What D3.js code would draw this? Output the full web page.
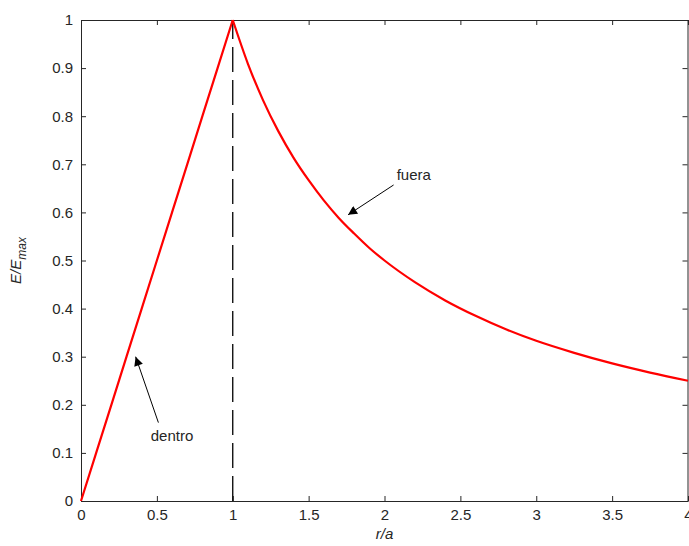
<!DOCTYPE html>
<html>
<head>
<meta charset="utf-8">
<script src="https://cdn.jsdelivr.net/npm/d3@7"></script>
<style>
  body { margin: 0; background: #fff; }
  text { font-family: "Liberation Sans", Arial, sans-serif; fill: #262626; }
</style>
</head>
<body>
<div class="container"></div>
<script>
// r/a values and field
const rIn  = [0, 0.1, 0.2, 0.3, 0.4, 0.5, 0.6, 0.7, 0.8, 0.9, 1.0];
const eIn  = [0, 0.1, 0.2, 0.3, 0.4, 0.5, 0.6, 0.7, 0.8, 0.9, 1.0];
const rOut = [1.0, 1.1, 1.2, 1.3, 1.4, 1.5, 1.6, 1.7, 1.8, 1.9, 2.0, 2.2, 2.4, 2.6, 2.8, 3.0, 3.25, 3.5, 3.75, 4.0];
const eOut = [1.0, 0.909, 0.833, 0.769, 0.714, 0.667, 0.625, 0.588, 0.556, 0.526, 0.5, 0.455, 0.417, 0.385, 0.357, 0.333, 0.308, 0.286, 0.267, 0.25];

const xTicks = [0, 0.5, 1, 1.5, 2, 2.5, 3, 3.5, 4];
const yTicks = [0, 0.1, 0.2, 0.3, 0.4, 0.5, 0.6, 0.7, 0.8, 0.9, 1];

const notes = [
  {label: 'dentro', text: [0.6, 0.133], from: [0.51, 0.163], to: [0.36, 0.30]},
  {label: 'fuera',  text: [2.08, 0.675], from: [2.06, 0.657], to: [1.76, 0.595]}
];

const width = 689, height = 546;
const margin = {left: 81, right: 1, top: 20, bottom: 45};

const svg = d3.select('.container')
  .append('svg')
  .attr('width', width)
  .attr('height', height);

const x = d3.scaleLinear().domain([0, 4]).range([margin.left, width - margin.right]);
const y = d3.scaleLinear().domain([0, 1]).range([height - margin.bottom, margin.top]);

svg.append('defs').append('marker')
  .attr('id', 'head')
  .attr('viewBox', '0 0 10 10')
  .attr('refX', 10).attr('refY', 5)
  .attr('markerWidth', 14).attr('markerHeight', 9)
  .attr('markerUnits', 'userSpaceOnUse')
  .attr('orient', 'auto')
  .append('path')
  .attr('d', 'M0,0 L10,5 L0,10 Z')
  .attr('fill', '#000');

//Axes, MATLAB style: box with ticks pointing inward
const axisStyle = g => {
  g.select('.domain').attr('stroke', '#262626');
  g.selectAll('.tick line').attr('stroke', '#262626');
  g.selectAll('.tick text').style('font-size', '15px');
};
const fmt = d => String(d);

svg.append('g')
  .attr('transform', `translate(0,${y(0)})`)
  .call(d3.axisBottom(x).tickValues(xTicks).tickFormat(fmt).tickSizeInner(-5).tickSizeOuter(0).tickPadding(8))
  .call(axisStyle);
svg.append('g')
  .attr('transform', `translate(0,${y(1)})`)
  .call(d3.axisTop(x).tickValues(xTicks).tickFormat('').tickSizeInner(-5).tickSizeOuter(0))
  .call(axisStyle);
svg.append('g')
  .attr('transform', `translate(${x(0)},0)`)
  .call(d3.axisLeft(y).tickValues(yTicks).tickFormat(fmt).tickSizeInner(-5).tickSizeOuter(0).tickPadding(8))
  .call(axisStyle);
svg.append('g')
  .attr('transform', `translate(${x(4) - 0.5},0)`)
  .call(d3.axisRight(y).tickValues(yTicks).tickFormat('').tickSizeInner(-5).tickSizeOuter(0))
  .call(axisStyle);

svg.selectAll('.tick text').attr('fill', '#262626');

//Dashed boundary at r = a
svg.append('line')
  .attr('x1', x(1)).attr('x2', x(1))
  .attr('y1', y(0)).attr('y2', y(1))
  .attr('stroke', '#000')
  .attr('stroke-width', 1.3)
  .attr('stroke-dasharray', '25,8');

const line = d3.line()
  .x(d => x(d[0]))
  .y(d => y(d[1]));

svg.append('path')
  .datum(d3.zip(rIn, eIn))
  .attr('d', line)
  .attr('fill', 'none')
  .attr('stroke', '#ff0000')
  .attr('stroke-width', 2.2);

svg.append('path')
  .datum(d3.zip(rOut, eOut))
  .attr('d', line.curve(d3.curveMonotoneX))
  .attr('fill', 'none')
  .attr('stroke', '#ff0000')
  .attr('stroke-width', 2.2);

//Annotations
notes.forEach(n => {
  svg.append('line')
    .attr('x1', x(n.from[0])).attr('y1', y(n.from[1]))
    .attr('x2', x(n.to[0])).attr('y2', y(n.to[1]))
    .attr('stroke', '#000')
    .attr('stroke-width', 1)
    .attr('marker-end', 'url(#head)');
  svg.append('text')
    .attr('x', x(n.text[0])).attr('y', y(n.text[1]))
    .attr('text-anchor', n.label === 'dentro' ? 'middle' : 'start')
    .attr('dominant-baseline', 'middle')
    .style('font-size', '15px')
    .text(n.label);
});

//Axis labels
svg.append('text')
  .attr('x', x(2)).attr('y', 539)
  .attr('text-anchor', 'middle')
  .style('font-size', '15px')
  .style('font-style', 'italic')
  .text('r/a');

const yl = svg.append('text')
  .attr('transform', `translate(21,${y(0.5)}) rotate(-90)`)
  .attr('text-anchor', 'middle')
  .style('font-size', '15px')
  .style('font-style', 'italic');
yl.append('tspan').text('E/E');
yl.append('tspan').attr('dy', 5).style('font-size', '12px').text('max');
</script>
</body>
</html>
